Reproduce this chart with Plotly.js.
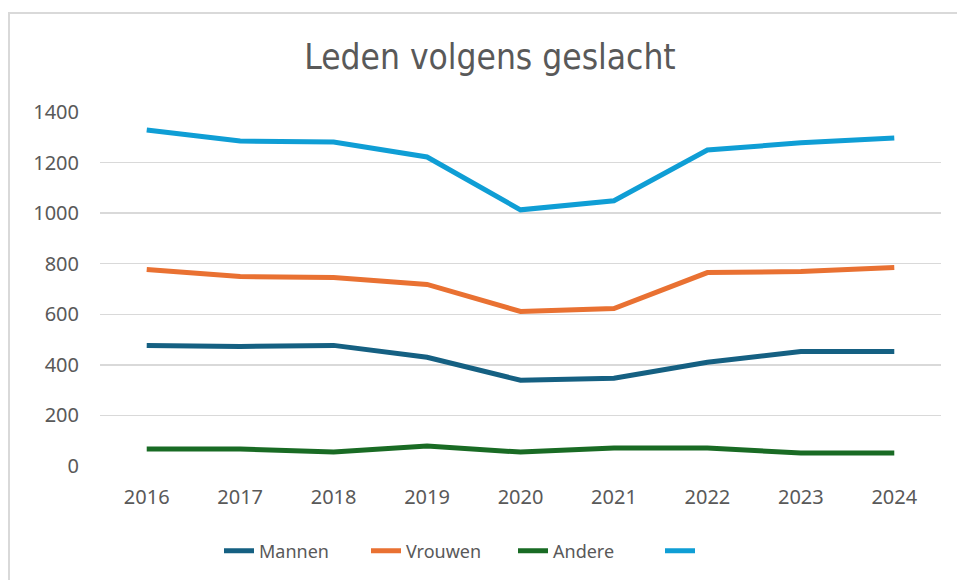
<!DOCTYPE html>
<html>
<head>
<meta charset="utf-8">
<script src="https://cdn.plot.ly/plotly-3.0.1.min.js"></script>
<style>
  html, body { margin: 0; padding: 0; background: #ffffff; }
  #wrap { position: relative; width: 957px; height: 580px; }
  #frame { position: absolute; left: 8px; top: 12px; right: 0; bottom: 0;
           border-top: 2px solid #d9d9d9; border-left: 2px solid #d9d9d9; pointer-events: none; z-index: 5; }
  #chart { position: absolute; left: 0; top: 0; width: 957px; height: 580px; }
</style>
</head>
<body>
<div id="wrap">
  <div id="chart"></div>
  <div id="frame"></div>
</div>
<script>
const years = ['2016','2017','2018','2019','2020','2021','2022','2023','2024'];
const mannen  = [477, 473, 477, 430, 339, 347, 410, 453, 453];
const vrouwen = [777, 749, 745, 718, 611, 623, 765, 769, 785];
const andere  = [67, 67, 55, 79, 55, 71, 71, 51, 51];
const totaal  = [1329, 1285, 1281, 1222, 1013, 1049, 1250, 1278, 1297];
const seriesNames = ['Mannen', 'Vrouwen', 'Andere', ' '];
const seriesColors = ['#156082', '#E97132', '#196B24', '#0F9ED5'];
const yTicks = [0, 200, 400, 600, 800, 1000, 1200, 1400];

const allSeries = [mannen, vrouwen, andere, totaal];
const traces = allSeries.map((vals, i) => ({
  type: 'scatter',
  mode: 'lines',
  x: years,
  y: vals,
  name: seriesNames[i],
  line: { color: seriesColors[i], width: 5, shape: 'linear' },
  hoverinfo: 'x+y'
}));

const layout = {
  width: 957,
  height: 580,
  paper_bgcolor: '#ffffff',
  plot_bgcolor: '#ffffff',
  margin: { l: 100, r: 16, t: 112, b: 113 },
  title: {
    text: 'Leden volgens geslacht',
    font: { family: 'DejaVu Sans Condensed, Liberation Sans Narrow, sans-serif', size: 35, color: '#595959' },
    x: 490 / 957, xanchor: 'center',
    y: 1 - 57/580, yanchor: 'middle'
  },
  xaxis: {
    type: 'category',
    range: [-0.5, 8.5],
    showgrid: false,
    zeroline: false,
    showline: false,
    ticks: '',
    ticklabelstandoff: 17,
    tickfont: { family: 'Noto Sans, sans-serif', size: 20, color: '#595959' }
  },
  yaxis: {
    range: [0, 1400],
    tickvals: yTicks,
    ticktext: yTicks.map(String),
    showgrid: true,
    gridcolor: '#d9d9d9',
    gridwidth: 1.5,
    zeroline: false,
    showline: false,
    ticks: '',
    ticklabelstandoff: 20,
    tickfont: { family: 'Noto Sans, sans-serif', size: 20, color: '#595959' }
  },
  showlegend: true,
  legend: {
    orientation: 'h',
    x: (219 - 100) / 841, xanchor: 'left',
    y: -(551 - 467) / 355, yanchor: 'middle',
    font: { family: 'Noto Sans, sans-serif', size: 18, color: '#595959' },
    itemwidth: 30,
    entrywidth: 102,
    tracegroupgap: 0
  }
};

Plotly.newPlot('chart', traces, layout, { displayModeBar: false, staticPlot: true });
</script>
</body>
</html>
